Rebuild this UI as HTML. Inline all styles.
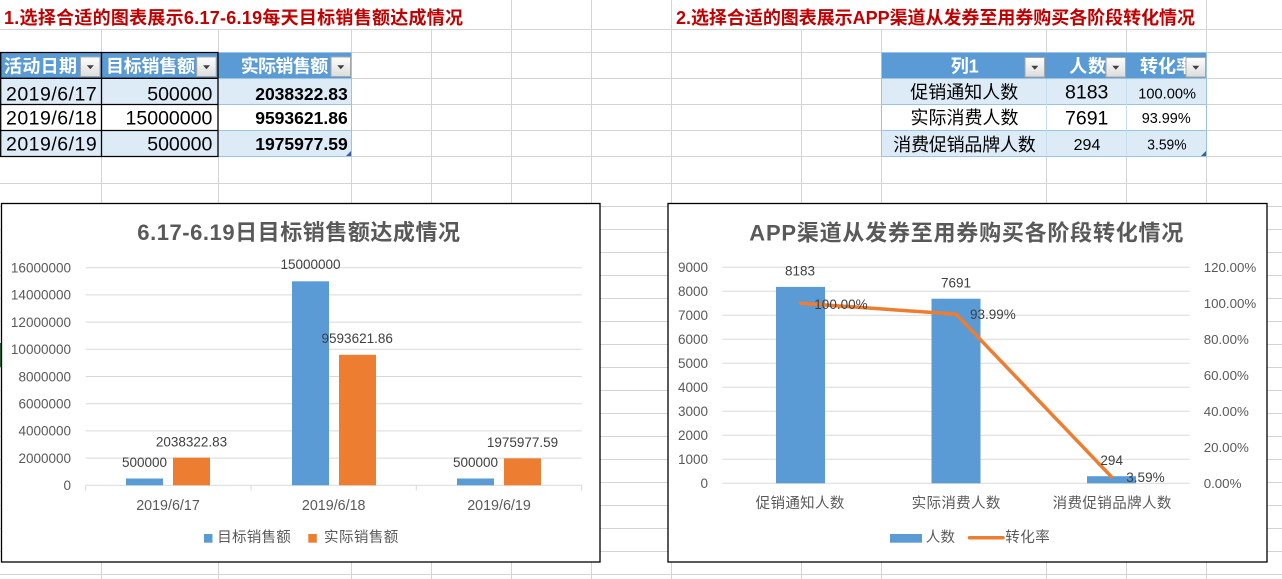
<!DOCTYPE html>
<html><head><meta charset="utf-8">
<style>
html,body{margin:0;padding:0;background:#fff;width:1282px;height:579px;overflow:hidden}
svg{display:block}
text{font-family:"Liberation Sans","Noto Sans CJK SC",sans-serif}
</style></head><body>
<svg width="1282" height="579" viewBox="0 0 1282 579" xmlns="http://www.w3.org/2000/svg">
<defs>
<linearGradient id="btn" x1="0" y1="0" x2="0" y2="1">
<stop offset="0" stop-color="#FFFFFF"/><stop offset="1" stop-color="#DCDCDC"/>
</linearGradient>
</defs>
<rect width="1282" height="579" fill="#fff"/>

<!-- sheet gridlines -->
<g stroke="#D4D4D4" stroke-width="1">
<line x1="0" y1="29.5" x2="1282" y2="29.5"/>
<line x1="0" y1="52.5" x2="1282" y2="52.5"/>
<line x1="0" y1="78.5" x2="1282" y2="78.5"/>
<line x1="0" y1="104.5" x2="1282" y2="104.5"/>
<line x1="0" y1="130.5" x2="1282" y2="130.5"/>
<line x1="0" y1="156.5" x2="1282" y2="156.5"/>
<line x1="0" y1="183.5" x2="1282" y2="183.5"/>
<line x1="0" y1="206.5" x2="1282" y2="206.5"/>
<line x1="0" y1="229.5" x2="1282" y2="229.5"/>
<line x1="0" y1="252.5" x2="1282" y2="252.5"/>
<line x1="0" y1="275.5" x2="1282" y2="275.5"/>
<line x1="0" y1="298.5" x2="1282" y2="298.5"/>
<line x1="0" y1="321.5" x2="1282" y2="321.5"/>
<line x1="0" y1="344.5" x2="1282" y2="344.5"/>
<line x1="0" y1="367.5" x2="1282" y2="367.5"/>
<line x1="0" y1="390.5" x2="1282" y2="390.5"/>
<line x1="0" y1="413.5" x2="1282" y2="413.5"/>
<line x1="0" y1="436.5" x2="1282" y2="436.5"/>
<line x1="0" y1="459.5" x2="1282" y2="459.5"/>
<line x1="0" y1="482.5" x2="1282" y2="482.5"/>
<line x1="0" y1="505.5" x2="1282" y2="505.5"/>
<line x1="0" y1="528.5" x2="1282" y2="528.5"/>
<line x1="0" y1="551.5" x2="1282" y2="551.5"/>
<line x1="0" y1="574.5" x2="1282" y2="574.5"/>
<line x1="101.5" y1="29.5" x2="101.5" y2="579"/>
<line x1="218.5" y1="29.5" x2="218.5" y2="579"/>
<line x1="351.5" y1="29.5" x2="351.5" y2="579"/>
<line x1="431.5" y1="29.5" x2="431.5" y2="579"/>
<line x1="511.5" y1="0" x2="511.5" y2="579"/>
<line x1="591.5" y1="0" x2="591.5" y2="579"/>
<line x1="671.5" y1="0" x2="671.5" y2="579"/>
<line x1="801.5" y1="29.5" x2="801.5" y2="579"/>
<line x1="881.5" y1="29.5" x2="881.5" y2="579"/>
<line x1="1046.5" y1="29.5" x2="1046.5" y2="579"/>
<line x1="1126.5" y1="29.5" x2="1126.5" y2="579"/>
<line x1="1206.5" y1="0" x2="1206.5" y2="579"/>
</g>
<rect x="0" y="343" width="2" height="24" fill="#217346"/>

<!-- sheet titles -->
<text x="4" y="24" font-size="18" font-weight="bold" fill="#C00000" textLength="459" lengthAdjust="spacing">1.选择合适的图表展示6.17-6.19每天目标销售额达成情况</text>
<text x="676" y="24" font-size="18" font-weight="bold" fill="#C00000" textLength="519" lengthAdjust="spacing">2.选择合适的图表展示APP渠道从发券至用券购买各阶段转化情况</text>

<!-- table 1 -->
<rect x="0" y="52.5" width="351.5" height="26" fill="#5B9BD5"/>
<rect x="0" y="78.5" width="351.5" height="26" fill="#DDEBF7"/>
<rect x="0" y="104.5" width="351.5" height="26" fill="#FFFFFF"/>
<rect x="0" y="130.5" width="351.5" height="26" fill="#DDEBF7"/>
<g stroke="#9BC2E6" stroke-width="1">
<line x1="218" y1="52.5" x2="351.5" y2="52.5"/>
<line x1="218" y1="104.5" x2="351.5" y2="104.5"/>
<line x1="218" y1="130.5" x2="351.5" y2="130.5"/>
<line x1="218" y1="156.5" x2="351.5" y2="156.5"/>
<line x1="351.5" y1="52.5" x2="351.5" y2="156.5"/>
</g>
<g stroke="#000" stroke-width="1.3">
<line x1="0" y1="52.5" x2="218.5" y2="52.5"/>
<line x1="0" y1="78.3" x2="218.5" y2="78.3"/>
<line x1="0" y1="104.5" x2="218.5" y2="104.5"/>
<line x1="0" y1="130.5" x2="218.5" y2="130.5"/>
<line x1="0" y1="156.5" x2="218.5" y2="156.5"/>
<line x1="0.7" y1="52.5" x2="0.7" y2="156.5"/>
<line x1="101.5" y1="52.5" x2="101.5" y2="156.5"/>
<line x1="218" y1="52.5" x2="218" y2="156.5"/>
</g>
<g font-size="18" font-weight="bold" fill="#fff">
<text x="4" y="72.5" textLength="73" lengthAdjust="spacing">活动日期</text>
<text x="106" y="72.5" textLength="89" lengthAdjust="spacing">目标销售额</text>
<text x="240.7" y="72.5" textLength="87.6" lengthAdjust="spacing">实际销售额</text>
</g>
<g font-size="19.5" fill="#000">
<text x="6" y="100.3" textLength="90.7" lengthAdjust="spacing">2019/6/17</text>
<text x="6" y="124.7" textLength="90.7" lengthAdjust="spacing">2019/6/18</text>
<text x="6" y="150.3" textLength="90.7" lengthAdjust="spacing">2019/6/19</text>
<text x="212.3" y="100.3" text-anchor="end">500000</text>
<text x="212.3" y="124.7" text-anchor="end">15000000</text>
<text x="212.3" y="150.3" text-anchor="end">500000</text>
</g>
<g font-size="17.5" font-weight="bold" fill="#000">
<text x="347.7" y="99.8" text-anchor="end">2038322.83</text>
<text x="347.7" y="124.2" text-anchor="end">9593621.86</text>
<text x="347.7" y="149.8" text-anchor="end">1975977.59</text>
</g>
<polygon points="351,151 351,156 346,156" fill="#3B5CA8"/>

<!-- table 2 -->
<rect x="881.5" y="52.5" width="325" height="26" fill="#5B9BD5"/>
<rect x="881.5" y="78.5" width="325" height="26" fill="#DDEBF7"/>
<rect x="881.5" y="104.5" width="325" height="26" fill="#FFFFFF"/>
<rect x="881.5" y="130.5" width="325" height="26" fill="#DDEBF7"/>
<g stroke="#9BC2E6" stroke-width="1">
<line x1="881.5" y1="52.5" x2="1206.5" y2="52.5"/>
<line x1="881.5" y1="104.5" x2="1206.5" y2="104.5"/>
<line x1="881.5" y1="130.5" x2="1206.5" y2="130.5"/>
<line x1="881.5" y1="156.5" x2="1206.5" y2="156.5"/>
<line x1="881.5" y1="52.5" x2="881.5" y2="156.5"/>
<line x1="1206.5" y1="52.5" x2="1206.5" y2="156.5"/>
</g>
<g stroke="#C8DCEF" stroke-width="1">
<line x1="1046.5" y1="78.5" x2="1046.5" y2="156.5"/>
<line x1="1126.5" y1="78.5" x2="1126.5" y2="156.5"/>
</g>
<g font-size="18" font-weight="bold" fill="#fff">
<text x="964.7" y="72.5" text-anchor="middle">列1</text>
<text x="1069.3" y="72.5" textLength="36.7" lengthAdjust="spacing">人数</text>
<text x="1140" y="72.5">转化率</text>
</g>
<g font-size="18" fill="#000">
<text x="964.2" y="98.5" text-anchor="middle" textLength="108" lengthAdjust="spacing">促销通知人数</text>
<text x="964.5" y="124.1" text-anchor="middle" textLength="108" lengthAdjust="spacing">实际消费人数</text>
<text x="893.3" y="150.8" textLength="142.4" lengthAdjust="spacing">消费促销品牌人数</text>
</g>
<g font-size="19.5" fill="#000">
<text x="1086.7" y="98.7" text-anchor="middle">8183</text>
<text x="1086.7" y="124.3" text-anchor="middle">7691</text>
</g>
<text x="1087" y="149.8" font-size="16" text-anchor="middle" fill="#000">294</text>
<g font-size="14.6" fill="#000">
<text x="1138.3" y="98.5" textLength="57.7" lengthAdjust="spacingAndGlyphs">100.00%</text>
<text x="1141.7" y="122.9" textLength="49" lengthAdjust="spacingAndGlyphs">93.99%</text>
<text x="1147.3" y="149.5" textLength="39.3" lengthAdjust="spacingAndGlyphs">3.59%</text>
</g>
<polygon points="1206,151 1206,156 1201,156" fill="#3B5CA8"/>

<!-- dropdown buttons -->
<g stroke="#A6A6A6" stroke-width="1" fill="url(#btn)">
<rect x="80.5" y="57" width="19.5" height="19.5"/>
<rect x="196.7" y="57" width="19.5" height="19.5"/>
<rect x="331" y="57" width="19.5" height="19.5"/>
<rect x="1025" y="57.5" width="19.5" height="19.5"/>
<rect x="1106" y="57.5" width="19.5" height="19.5"/>
<rect x="1186" y="57.5" width="19.5" height="19.5"/>
</g>
<g fill="#404040">
<polygon points="86.8,65.3 93.8,65.3 90.3,69.3"/>
<polygon points="203,65.3 210,65.3 206.5,69.3"/>
<polygon points="337.3,65.3 344.3,65.3 340.8,69.3"/>
<polygon points="1031.3,65.8 1038.3,65.8 1034.8,69.8"/>
<polygon points="1112.3,65.8 1119.3,65.8 1115.8,69.8"/>
<polygon points="1192.3,65.8 1199.3,65.8 1195.8,69.8"/>
</g>

<!-- ============ CHART 1 ============ -->
<rect x="1.5" y="203.5" width="598.5" height="358.5" fill="#fff" stroke="#000" stroke-width="1.3"/>
<text x="137.3" y="239.8" font-size="22" font-weight="bold" fill="#595959" textLength="322.7" lengthAdjust="spacing">6.17-6.19日目标销售额达成情况</text>
<g stroke="#D9D9D9" stroke-width="1">
<line x1="85.7" y1="267.7" x2="581.7" y2="267.7"/>
<line x1="85.7" y1="294.9" x2="581.7" y2="294.9"/>
<line x1="85.7" y1="322.1" x2="581.7" y2="322.1"/>
<line x1="85.7" y1="349.3" x2="581.7" y2="349.3"/>
<line x1="85.7" y1="376.5" x2="581.7" y2="376.5"/>
<line x1="85.7" y1="403.7" x2="581.7" y2="403.7"/>
<line x1="85.7" y1="430.9" x2="581.7" y2="430.9"/>
<line x1="85.7" y1="458.1" x2="581.7" y2="458.1"/>
<line x1="85.7" y1="485.3" x2="581.7" y2="485.3"/>
<line x1="85.7" y1="485.3" x2="85.7" y2="490.5"/>
<line x1="251" y1="485.3" x2="251" y2="490.5"/>
<line x1="416.3" y1="485.3" x2="416.3" y2="490.5"/>
<line x1="581.7" y1="485.3" x2="581.7" y2="490.5"/>
</g>
<g font-size="13.5" fill="#595959" text-anchor="end">
<text x="71" y="490.1">0</text>
<text x="71" y="462.9">2000000</text>
<text x="71" y="435.7">4000000</text>
<text x="71" y="408.5">6000000</text>
<text x="71" y="381.3">8000000</text>
<text x="71" y="354.1">10000000</text>
<text x="71" y="326.9">12000000</text>
<text x="71" y="299.7">14000000</text>
<text x="71" y="272.5">16000000</text>
</g>
<g fill="#5B9BD5">
<rect x="126" y="478.5" width="37" height="6.8"/>
<rect x="292" y="281.3" width="37" height="204"/>
<rect x="457" y="478.5" width="37" height="6.8"/>
</g>
<g fill="#ED7D31">
<rect x="173" y="457.6" width="37" height="27.7"/>
<rect x="339" y="354.8" width="37" height="130.5"/>
<rect x="504" y="458.4" width="37" height="26.9"/>
</g>
<g font-size="13.5" fill="#404040" text-anchor="middle">
<text x="144.5" y="467.1">500000</text>
<text x="191.5" y="446.3">2038322.83</text>
<text x="310.5" y="268.8">15000000</text>
<text x="357.2" y="343.1">9593621.86</text>
<text x="475.5" y="467.1">500000</text>
<text x="522.5" y="447.1">1975977.59</text>
</g>
<g font-size="14.3" fill="#595959" text-anchor="middle">
<text x="168" y="510.1">2019/6/17</text>
<text x="333.7" y="510.1">2019/6/18</text>
<text x="499" y="510.1">2019/6/19</text>
</g>
<rect x="204" y="534" width="8.5" height="8.7" fill="#5B9BD5"/>
<text x="217.3" y="541.8" font-size="14.5" fill="#595959" textLength="73.4" lengthAdjust="spacing">目标销售额</text>
<rect x="308.3" y="534" width="8.5" height="8.7" fill="#ED7D31"/>
<text x="324" y="541.8" font-size="14.5" fill="#595959" textLength="74.3" lengthAdjust="spacing">实际销售额</text>

<!-- ============ CHART 2 ============ -->
<rect x="668" y="203.5" width="599" height="358.5" fill="#fff" stroke="#000" stroke-width="1.3"/>
<text x="749.3" y="240.5" font-size="22" font-weight="bold" fill="#595959" textLength="434" lengthAdjust="spacing">APP渠道从发券至用券购买各阶段转化情况</text>
<g stroke="#D9D9D9" stroke-width="1">
<line x1="722.3" y1="267.3" x2="1189.7" y2="267.3"/>
<line x1="722.3" y1="291.3" x2="1189.7" y2="291.3"/>
<line x1="722.3" y1="315.3" x2="1189.7" y2="315.3"/>
<line x1="722.3" y1="339.3" x2="1189.7" y2="339.3"/>
<line x1="722.3" y1="363.3" x2="1189.7" y2="363.3"/>
<line x1="722.3" y1="387.3" x2="1189.7" y2="387.3"/>
<line x1="722.3" y1="411.3" x2="1189.7" y2="411.3"/>
<line x1="722.3" y1="435.3" x2="1189.7" y2="435.3"/>
<line x1="722.3" y1="459.3" x2="1189.7" y2="459.3"/>
<line x1="722.3" y1="483.3" x2="1189.7" y2="483.3"/>
</g>
<g font-size="13.5" fill="#595959" text-anchor="end">
<text x="708" y="488.1">0</text>
<text x="708" y="464.1">1000</text>
<text x="708" y="440.1">2000</text>
<text x="708" y="416.1">3000</text>
<text x="708" y="392.1">4000</text>
<text x="708" y="368.1">5000</text>
<text x="708" y="344.1">6000</text>
<text x="708" y="320.1">7000</text>
<text x="708" y="296.1">8000</text>
<text x="708" y="272.1">9000</text>
</g>
<g font-size="13.3" fill="#595959">
<text x="1203.7" y="488.1">0.00%</text>
<text x="1203.7" y="452.1">20.00%</text>
<text x="1203.7" y="416.1">40.00%</text>
<text x="1203.7" y="380.1">60.00%</text>
<text x="1203.7" y="344.1">80.00%</text>
<text x="1203.7" y="308.1">100.00%</text>
<text x="1203.7" y="272.1">120.00%</text>
</g>
<g fill="#5B9BD5">
<rect x="776" y="286.9" width="49" height="196.4"/>
<rect x="931.5" y="298.7" width="49" height="184.6"/>
<rect x="1087" y="476.2" width="49" height="7.1"/>
</g>
<polyline points="800.5,303.3 956,314.1 1111.5,476.8" fill="none" stroke="#ED7D31" stroke-width="3.5" stroke-linejoin="round" stroke-linecap="round"/>
<g font-size="13.5" fill="#404040">
<text x="800" y="275.5" text-anchor="middle">8183</text>
<text x="956" y="287.5" text-anchor="middle">7691</text>
<text x="1111.7" y="464.8" text-anchor="middle">294</text>
<text x="814.3" y="308.8">100.00%</text>
<text x="970" y="319.1">93.99%</text>
<text x="1126.3" y="482.1">3.59%</text>
</g>
<g font-size="14.5" fill="#595959" text-anchor="middle">
<text x="800" y="508.2" textLength="88.7" lengthAdjust="spacing">促销通知人数</text>
<text x="956" y="508.2" textLength="88.7" lengthAdjust="spacing">实际消费人数</text>
<text x="1112" y="508.2" textLength="118.7" lengthAdjust="spacing">消费促销品牌人数</text>
</g>
<rect x="890" y="534" width="32" height="8.7" fill="#5B9BD5"/>
<text x="925.7" y="541.8" font-size="14.5" fill="#595959" textLength="29.3" lengthAdjust="spacing">人数</text>
<line x1="969.5" y1="537.7" x2="1003" y2="537.7" stroke="#ED7D31" stroke-width="3.5" stroke-linecap="round"/>
<text x="1005.3" y="541.8" font-size="14.5" fill="#595959" textLength="44.4" lengthAdjust="spacing">转化率</text>
</svg>
</body></html>
